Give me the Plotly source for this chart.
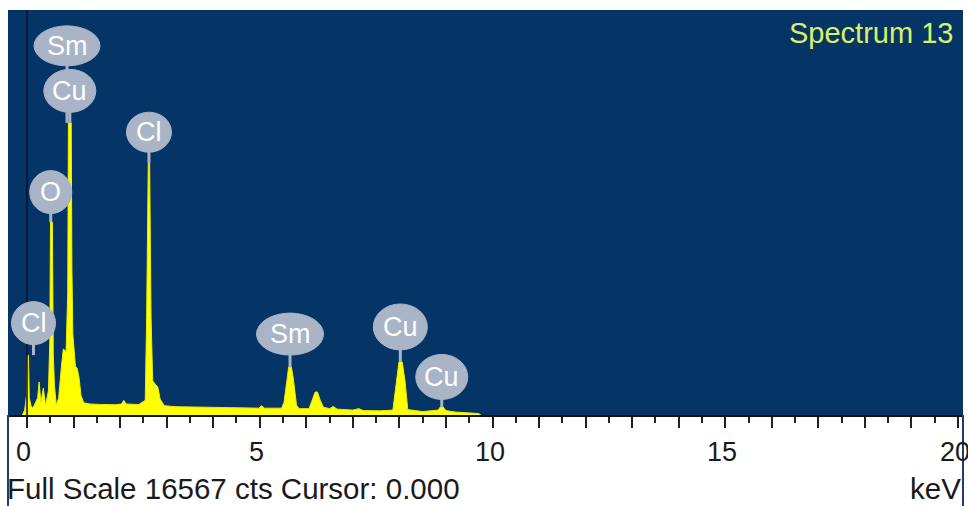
import plotly.graph_objects as go

# ---- spectrum data (keV, counts) ----
energy_kev = [-0.10, -0.05, -0.01, 0.005, 0.03, 0.05, 0.09, 0.13, 0.18, 0.23, 0.26, 0.30, 0.35, 0.40,
              0.46, 0.49, 0.505, 0.545, 0.565, 0.59, 0.63, 0.68, 0.74, 0.78, 0.84, 0.875, 0.89, 0.95,
              0.965, 0.985, 1.04, 1.08, 1.12, 1.16, 1.22, 1.35, 1.60, 1.90, 2.03, 2.08, 2.13, 2.40,
              2.54, 2.57, 2.605, 2.635, 2.665, 2.70, 2.76, 2.81, 2.86, 2.95, 3.20, 3.60, 4.00, 4.50,
              4.98, 5.04, 5.10, 5.47, 5.52, 5.59, 5.62, 5.68, 5.72, 5.79, 5.85, 6.06, 6.13, 6.19,
              6.24, 6.30, 6.37, 6.50, 6.58, 6.66, 7.00, 7.13, 7.22, 7.60, 7.86, 7.93, 7.99, 8.06,
              8.12, 8.18, 8.50, 8.83, 8.88, 8.94, 9.00, 9.20, 9.50, 9.70, 9.75]
counts = [0, 200, 800, 2450, 2450, 700, 350, 300, 500, 700, 1350, 500, 1100, 400,
          1000, 3000, 7890, 7890, 2500, 1200, 400, 700, 2000, 2700, 2600, 5000, 11950, 11950,
          6000, 3300, 2000, 1900, 1500, 800, 500, 450, 430, 420, 450, 600, 450, 430,
          600, 4000, 10300, 10300, 4000, 1400, 1250, 1150, 650, 380, 340, 320, 300, 290,
          280, 380, 280, 280, 500, 1500, 1960, 1960, 1500, 400, 260, 260, 600, 940,
          940, 600, 320, 260, 350, 240, 200, 260, 180, 170, 200, 1400, 2170, 2170,
          1400, 220, 140, 200, 330, 330, 180, 120, 100, 60, 0]

full_scale = 16567

# ---- peak labels ----
peak_labels = ["Sm", "Cu", "Cl", "O", "Cl", "Sm", "Cu", "Cu"]
label_energy = [0.86, 0.92, 2.62, 0.51, 0.14, 5.65, 8.02, 8.91]
label_counts = [11950, 11950, 10300, 7890, 2450, 1960, 2170, 330]

# ---- ticks ----
tick_values = list(range(0, 21))
label_tick_values = [0, 5, 10, 15, 20]
label_tick_text = ["0", "5", "10", "15", "20"]

# layout-only settings for the label bubbles (pixels)
label_offset_px = [77, 32, 31, 30, 32, 33, 35, 30]
label_w_px = [66, 52, 45, 42, 44, 67, 54, 52]
label_h_px = [40, 43, 40, 43, 43, 42, 46, 45]

BG = "#053467"
BUBBLE = "#a9b4c6"
FONT = "Liberation Sans, Arial, sans-serif"

fig = go.Figure()
fig.add_trace(go.Scatter(
    x=energy_kev, y=counts, mode="lines",
    line=dict(color="#eded00", width=1),
    fill="tozeroy", fillcolor="#ffff00",
    hoverinfo="skip", showlegend=False,
))

shapes = []
# cursor line at 0 keV
shapes.append(dict(type="line", xref="x", yref="paper", x0=0, x1=0, y0=0, y1=1,
                   line=dict(color="rgba(10,18,40,0.75)", width=2), layer="above"))
# frame lines down the text area
for px in (0, 1):
    shapes.append(dict(type="line", xref="paper", yref="paper", x0=px, x1=px,
                       y0=-91 / 405, y1=0, line=dict(color="#1f3c6a", width=2)))
# stems
for e, c, off, h in zip(label_energy, label_counts, label_offset_px, label_h_px):
    shapes.append(dict(type="line", xref="x", yref="y", xsizemode="pixel", ysizemode="pixel",
                       xanchor=e, yanchor=c, x0=0, x1=0, y0=0, y1=off - h / 2 + 2,
                       line=dict(color=BUBBLE, width=3), layer="above"))
# bubbles
for e, c, off, w, h in zip(label_energy, label_counts, label_offset_px, label_w_px, label_h_px):
    shapes.append(dict(type="circle", xref="x", yref="y", xsizemode="pixel", ysizemode="pixel",
                       xanchor=e, yanchor=c, x0=-w / 2, x1=w / 2, y0=off - h / 2, y1=off + h / 2,
                       fillcolor=BUBBLE, line=dict(color=BUBBLE, width=1), layer="above"))

annotations = []
for t, e, c, off in zip(peak_labels, label_energy, label_counts, label_offset_px):
    annotations.append(dict(x=e, y=c, xref="x", yref="y", text=t, showarrow=False,
                            yshift=off, font=dict(family=FONT, size=27, color="white")))

# x tick labels (drawn as annotations so the edge label "20" is clipped like the original)
for v, t in zip(label_tick_values, label_tick_text):
    annotations.append(dict(x=v, y=-0.0914, xref="x", yref="paper", text=t, showarrow=False,
                            xanchor="center", yanchor="middle", xshift=-3,
                            font=dict(family=FONT, size=27, color="#1a1a1a")))

annotations.append(dict(x=0.9913, y=0.943, xref="paper", yref="paper", text="Spectrum 13",
                        showarrow=False, xanchor="right", yanchor="middle",
                        font=dict(family=FONT, size=29, color="#dcf064")))
annotations.append(dict(x=-0.003, y=-0.182, xref="paper", yref="paper",
                        text="Full Scale %d cts Cursor: 0.000" % full_scale,
                        showarrow=False, xanchor="left", yanchor="middle",
                        font=dict(family=FONT, size=29.5, color="#1a1a1a")))
annotations.append(dict(x=1.0, y=-0.182, xref="paper", yref="paper", text="keV",
                        showarrow=False, xanchor="right", yanchor="middle",
                        font=dict(family=FONT, size=29.5, color="#1a1a1a")))

fig.update_layout(
    width=968, height=506,
    margin=dict(l=8, r=5, t=10, b=91),
    paper_bgcolor="white", plot_bgcolor=BG,
    shapes=shapes, annotations=annotations,
    xaxis=dict(range=[-0.408, 20.107], tickmode="array", tickvals=tick_values,
               showticklabels=False, automargin=False,
               ticks="outside", ticklen=11, tickwidth=2, tickcolor="#222",
               minor=dict(dtick=0.5, tick0=0, ticks="outside", ticklen=6, tickwidth=2, tickcolor="#222"),
               showgrid=False, zeroline=False, showline=True, linecolor="#111", linewidth=2),
    yaxis=dict(range=[0, full_scale], visible=False, showgrid=False, zeroline=False),
)

fig.write_html("out.html", config={"displayModeBar": False},
               post_script="document.body.style.margin='0';")
